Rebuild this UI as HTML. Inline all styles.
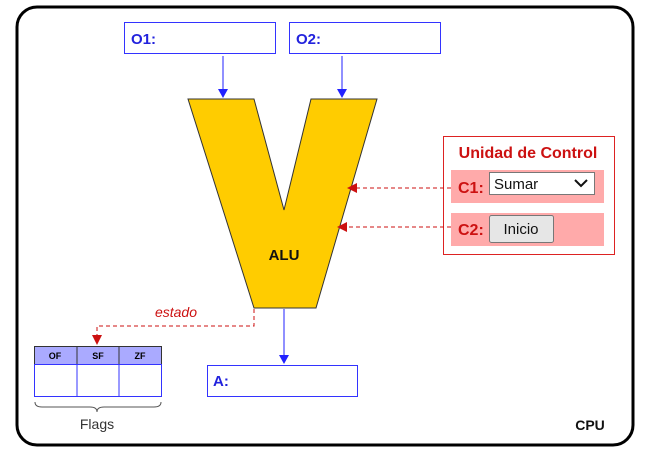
<!DOCTYPE html>
<html><head><style>
body{margin:0;background:#fff;}
svg text{font-family:"Liberation Sans",sans-serif;}
</style></head><body>
<svg width="646" height="452" viewBox="0 0 646 452" xmlns="http://www.w3.org/2000/svg">
<rect x="17" y="7" width="616" height="438" rx="20" fill="#fff" stroke="#000" stroke-width="3"/>
<rect x="124.5" y="22.5" width="151" height="31" fill="#fff" stroke="#3333ff"/>
<text x="131" y="44" font-size="15" font-weight="bold" fill="#2222dd">O1:</text>
<rect x="289.5" y="22.5" width="151" height="31" fill="#fff" stroke="#3333ff"/>
<text x="296" y="44" font-size="15" font-weight="bold" fill="#2222dd">O2:</text>
<line x1="223" y1="56" x2="223" y2="90" stroke="#2222ff"/>
<path d="M218,89 L228,89 L223,98 z" fill="#2222ff"/>
<line x1="342" y1="56" x2="342" y2="90" stroke="#2222ff"/>
<path d="M337,89 L347,89 L342,98 z" fill="#2222ff"/>
<polygon points="188,99 254,99 284,210 311,99 377,99 316,308 254,308" fill="#ffcc00" stroke="#333" stroke-width="1"/>
<text x="284" y="260" font-size="15" font-weight="bold" text-anchor="middle" fill="#111">ALU</text>
<line x1="284" y1="309" x2="284" y2="356" stroke="#2222ff"/>
<path d="M279,355 L289,355 L284,364 z" fill="#2222ff"/>
<rect x="207.5" y="365.5" width="150" height="31" fill="#fff" stroke="#3333ff"/>
<text x="213" y="386" font-size="15" font-weight="bold" fill="#2222dd">A:</text>
<path d="M254,309 V326 H97 V336" fill="none" stroke="#cc1111" stroke-dasharray="4,3"/>
<path d="M92,335 L102,335 L97,345 z" fill="#cc1111"/>
<text x="176" y="317" font-size="14" font-style="italic" text-anchor="middle" fill="#cc1111">estado</text>
<rect x="34.5" y="346.5" width="127" height="18" fill="#aaaaff" stroke="#333"/>
<line x1="77" y1="346" x2="77" y2="364" stroke="#333"/>
<line x1="119" y1="346" x2="119" y2="364" stroke="#333"/>
<text x="55" y="359" font-size="9" font-weight="bold" text-anchor="middle">OF</text>
<text x="98" y="359" font-size="9" font-weight="bold" text-anchor="middle">SF</text>
<text x="140" y="359" font-size="9" font-weight="bold" text-anchor="middle">ZF</text>
<rect x="34.5" y="364.5" width="127" height="32" fill="#fff" stroke="#3333ff"/>
<line x1="77" y1="364" x2="77" y2="397" stroke="#3333ff"/>
<line x1="119" y1="364" x2="119" y2="397" stroke="#3333ff"/>
<path d="M35,402 Q35,407 42,407 L90,407 Q97,407 97,412 Q97,407 104,407 L154,407 Q161,407 161,402" fill="none" stroke="#555"/>
<text x="97" y="429" font-size="14" text-anchor="middle" fill="#333">Flags</text>
<text x="590" y="430" font-size="14" font-weight="bold" text-anchor="middle" fill="#111">CPU</text>
<rect x="443.5" y="136.5" width="171" height="118" fill="#fff" stroke="#dd2222"/>
<text x="528" y="158" font-size="16" font-weight="bold" text-anchor="middle" fill="#cc1111">Unidad de Control</text>
<rect x="451" y="170" width="153" height="33" fill="#ffaaaa"/>
<rect x="451" y="213" width="153" height="33" fill="#ffaaaa"/>
<text x="458" y="193" font-size="16" font-weight="bold" fill="#cc1111">C1:</text>
<text x="458" y="235" font-size="16" font-weight="bold" fill="#cc1111">C2:</text>
<rect x="489.5" y="172.5" width="105" height="22" fill="#fff" stroke="#777"/>
<text x="494" y="189" font-size="15" fill="#111">Sumar</text>
<path d="M575,180 L581,186 L587,180" fill="none" stroke="#111" stroke-width="2"/>
<rect x="489.5" y="215.5" width="64" height="27" rx="2" fill="#e6e6e6" stroke="#777"/>
<text x="521" y="234" font-size="15" text-anchor="middle" fill="#111">Inicio</text>
<path d="M451,188 H356" fill="none" stroke="#cc1111" stroke-dasharray="4,3"/>
<path d="M357,183 L357,193 L347,188 z" fill="#cc1111"/>
<path d="M451,227 H346" fill="none" stroke="#cc1111" stroke-dasharray="4,3"/>
<path d="M347,222 L347,232 L337,227 z" fill="#cc1111"/>
</svg>
</body></html>
